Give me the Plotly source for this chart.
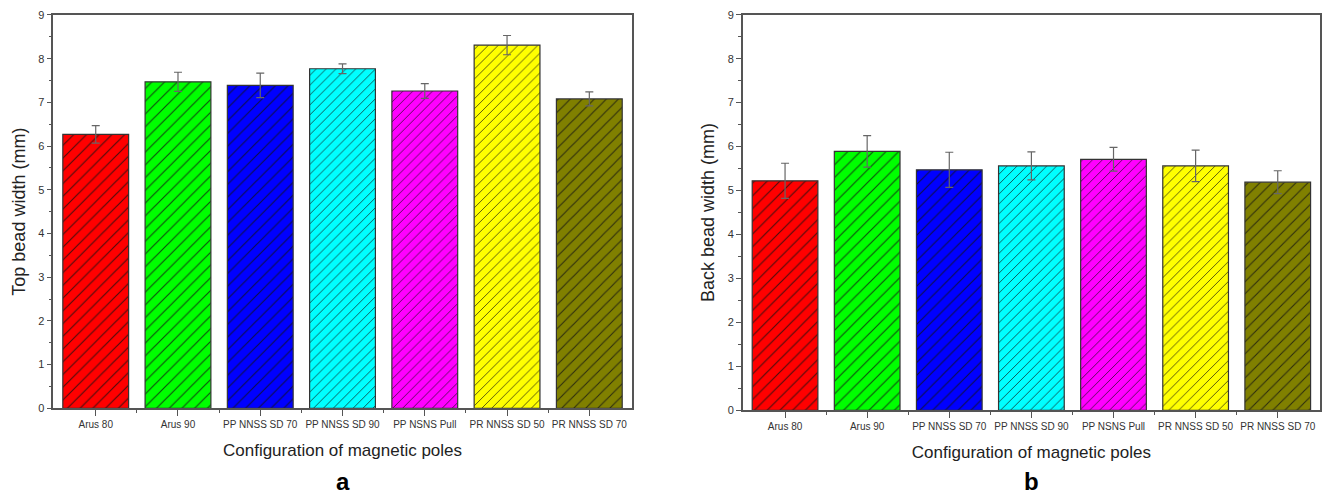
import plotly.graph_objects as go

categories = ["Arus 80", "Arus 90", "PP NNSS SD 70", "PP NNSS SD 90",
              "PP NSNS Pull", "PR NNSS SD 50", "PR NNSS SD 70"]
top_width = [6.27, 7.47, 7.39, 7.77, 7.26, 8.31, 7.08]
top_err = [0.20, 0.22, 0.28, 0.11, 0.17, 0.22, 0.16]
back_width = [5.22, 5.89, 5.47, 5.56, 5.71, 5.56, 5.19]
back_err = [0.40, 0.36, 0.40, 0.32, 0.27, 0.36, 0.26]
bar_colors = ["#FF0000", "#00FF00", "#0000FF", "#00FFFF", "#FF00FF", "#FFFF00", "#808000"]
hatch_sizes = [9, 9, 9, 7, 7, 7, 8.5]
y_ticks = list(range(0, 10))
panel_labels = ["a", "b"]
y_titles = ["Top bead width (mm)", "Back bead width (mm)"]
x_title = "Configuration of magnetic poles"

FONT = "Arial, Liberation Sans, sans-serif"
xpos = list(range(len(categories)))

fig = go.Figure()
for i, (vals, errs) in enumerate([(top_width, top_err), (back_width, back_err)]):
    sfx = "" if i == 0 else str(i + 1)
    for k in range(len(categories)):
        fig.add_trace(go.Bar(
            x=[xpos[k]], y=[vals[k]], width=0.8,
            xaxis="x" + sfx, yaxis="y" + sfx,
            marker=dict(color=bar_colors[k],
                        line=dict(color="#333333", width=1.2),
                        pattern=dict(shape="/", fgcolor="#111111", fgopacity=0.75,
                                     size=hatch_sizes[k], solidity=0.13)),
            error_y=dict(type="data", array=[errs[k]], visible=True,
                         color="#666666", thickness=1.2, width=4),
            showlegend=False, name=categories[k]))

axis_common = dict(showline=True, linecolor="#555555", linewidth=1.5, mirror=True,
                   showgrid=False, zeroline=False, ticks="outside", tickcolor="#555555",
                   tickwidth=1.2, automargin=False)

x_domains = [[0.0403, 0.4771], [0.561, 0.997]]
y_domains = [[0.1768, 0.9698], [0.1728, 0.9704]]
for i in range(2):
    sfx = "" if i == 0 else str(i + 1)
    fig.update_layout(**{
        "xaxis" + sfx: dict(axis_common, domain=x_domains[i], range=[-0.515, 6.515],
                            anchor="y" + sfx, tickvals=xpos, ticktext=categories,
                            ticklen=6,
                            tickfont=dict(family=FONT, size=10, color="#333333"),
                            minor=dict(tickvals=[p + 0.5 for p in xpos[:-1]], ticklen=3,
                                       ticks="outside", tickcolor="#555555", tickwidth=1.2),
                            title=dict(text=x_title, standoff=15,
                                       font=dict(family=FONT, size=17, color="#222222"))),
        "yaxis" + sfx: dict(axis_common, domain=y_domains[i], range=[0, 9],
                            anchor="x" + sfx, tickvals=y_ticks, ticklen=5,
                            tickfont=dict(family=FONT, size=11, color="#333333"),
                            minor=dict(dtick=0.5, ticklen=3, ticks="outside",
                                       tickcolor="#555555", tickwidth=1.2),
                            title=dict(text=y_titles[i], standoff=8,
                                       font=dict(family=FONT, size=18, color="#222222"))),
    })
    fig.add_annotation(text="<b>%s</b>" % panel_labels[i], xref="paper", yref="paper",
                       x=sum(x_domains[i]) / 2, y=1 - 481 / 496, xanchor="center",
                       yanchor="middle", showarrow=False,
                       font=dict(family=FONT, size=24, color="#000000"))

fig.update_layout(width=1324, height=496, margin=dict(l=0, r=0, t=0, b=0, autoexpand=False),
                  paper_bgcolor="white", plot_bgcolor="white", bargap=0.2)
fig.write_html("out.html", config={"displayModeBar": False},
               post_script="document.body.style.margin='0';document.body.style.padding='0';")
